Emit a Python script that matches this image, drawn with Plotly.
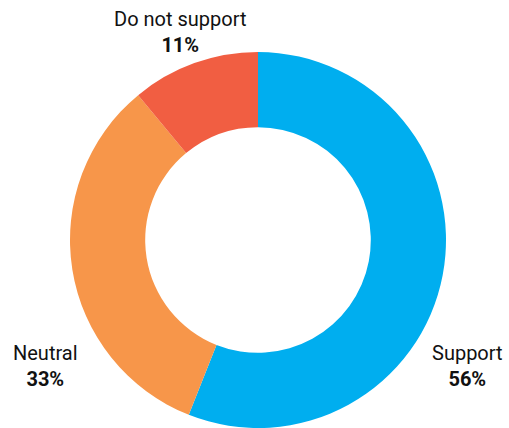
import plotly.graph_objects as go

labels = ["Support", "Neutral", "Do not support"]
values = [56, 33, 11]
colors = ["#00AEEF", "#F7964A", "#F15E42"]
label_x_px = [467, 45, 180]
label_y_px = [366, 366, 32]

W, H = 509, 428
cx, cy, r = 258, 240, 188

fig = go.Figure(go.Pie(
    labels=labels,
    values=values,
    marker=dict(colors=colors, line=dict(width=0)),
    hole=0.6,
    sort=False,
    direction="clockwise",
    rotation=0,
    textinfo="none",
    hoverinfo="label+percent",
    domain=dict(x=[(cx - r) / W, (cx + r) / W], y=[max(0, (H - cy - r) / H), min(1, (H - cy + r) / H)]),
    showlegend=False,
))

total = sum(values)
for lab, v, x, y in zip(labels, values, label_x_px, label_y_px):
    fig.add_annotation(
        x=x / W, y=1 - y / H, xref="paper", yref="paper",
        text=f"{lab}<br><b>{round(100 * v / total)}%</b>",
        showarrow=False, xanchor="center", yanchor="middle", align="center",
        font=dict(family="Roboto, Arial, sans-serif", size=20, color="#111111"),
    )

fig.update_layout(
    width=W, height=H,
    margin=dict(l=0, r=0, t=0, b=0),
    paper_bgcolor="white", plot_bgcolor="white",
)
fig.write_html("out.html")
